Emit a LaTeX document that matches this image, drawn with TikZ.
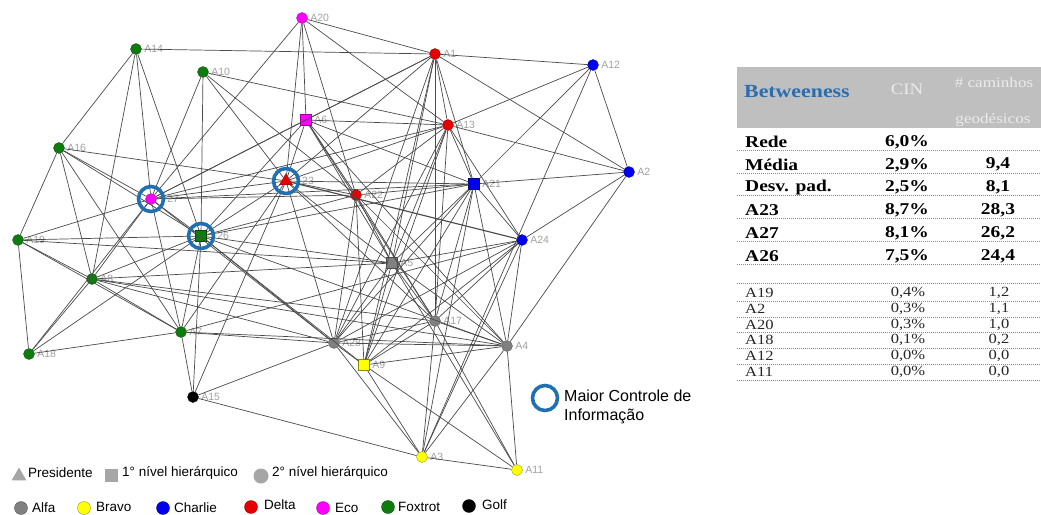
\documentclass[tikz,border=0pt]{standalone}
\usepackage{fontspec}
\setmainfont{Liberation Sans}
\newfontfamily\tabfont[FakeStretch=1.18]{Liberation Serif}
\usetikzlibrary{shapes.geometric}

\definecolor{alfa}{HTML}{808080}
\definecolor{bravo}{HTML}{FFFF00}
\definecolor{charlie}{HTML}{0000F0}
\definecolor{delta}{HTML}{E60000}
\definecolor{eco}{HTML}{FF00FF}
\definecolor{foxtrot}{HTML}{107C10}
\definecolor{golf}{HTML}{000000}
\definecolor{anelazul}{HTML}{1F70B0}
\definecolor{linha}{HTML}{4A4A4A}
\definecolor{rotulo}{HTML}{A0A0A0}
\definecolor{legcinza}{HTML}{A6A6A6}
\definecolor{cabec}{HTML}{BFBFBF}
\definecolor{betw}{HTML}{2A6DB0}

\begin{document}
\begin{tikzpicture}[x=1pt,y=-1pt,
  ator/.style={circle,inner sep=0pt,minimum size=11pt,line width=.3pt},
  chefe/.style={rectangle,inner sep=0pt,minimum size=11pt,line width=.3pt},
  pres/.style={regular polygon,regular polygon sides=3,inner sep=0pt,minimum size=15pt,line width=.3pt},
  al/.style={fill=alfa,draw=alfa!60!black},
  br/.style={fill=bravo,draw=bravo!55!black},
  ch/.style={fill=charlie,draw=charlie!55!black},
  de/.style={fill=delta,draw=delta!55!black},
  ec/.style={fill=eco,draw=eco!60!black},
  fo/.style={fill=foxtrot,draw=foxtrot!55!black},
  go/.style={fill=golf,draw=golf},
  rot/.style={text=rotulo,font=\fontsize{10.5}{10.5}\selectfont,inner sep=.5pt},
  anel/.style={circle,draw=anelazul,line width=3.6pt,minimum size=25pt,inner sep=0pt},
  ligacao/.style={draw=linha,line width=.7pt},
  leg/.style={font=\fontsize{13.5}{16}\selectfont,inner sep=0pt,anchor=west},
  tabb/.style={font=\tabfont\bfseries\fontsize{16.5}{18}\selectfont,inner sep=0pt},
  tabn/.style={font=\tabfont\fontsize{14}{15}\selectfont,text=black!85,inner sep=0pt},
  pont/.style={draw=black!45,line width=.6pt,dash pattern=on .7pt off 1.3pt},
  every label/.style={rot},label distance=2pt]
\useasboundingbox (0,0) rectangle (1041,514);

% atores da rede
\node[ator,ec,label=right:A20] (A20) at (302,18) {};
\node[ator,fo,label=right:A14] (A14) at (136,49) {};
\node[ator,fo,label=right:A10] (A10) at (203,72) {};
\node[ator,de,label=right:A1] (A1) at (435,54) {};
\node[ator,ch,label=right:A12] (A12) at (593,65) {};
\node[chefe,ec,label=right:A6] (A6) at (306,120) {};
\node[ator,de,label=right:A13] (A13) at (448,125) {};
\node[ator,fo,label=right:A16] (A16) at (59,148) {};
\node[ator,ch,label=right:A2] (A2) at (629,172) {};
\node[pres,de,label={[label distance=11pt]right:23}] (A23) at (286,181) {};
\node[ator,de,label=right:A22] (A22) at (356,195) {};
\node[chefe,ch,label=right:A21] (A21) at (474,184) {};
\node[ator,ec,label={[label distance=10pt]right:27}] (A27) at (151,199) {};
\node[chefe,fo,label={[label distance=10pt]right:26}] (A26) at (201,236) {};
\node[ator,fo,label=right:A19] (A19) at (18,240) {};
\node[ator,ch,label=right:A24] (A24) at (522,240) {};
\node[ator,fo,label=right:A8] (A8) at (92,279) {};
\node[chefe,al,label=right:A5] (A5) at (392,263) {};
\node[ator,al,label=right:A17] (A17) at (435,321) {};
\node[ator,fo,label=right:A7] (A7) at (181,332) {};
\node[ator,al,label=right:A28] (A28) at (334,343) {};
\node[ator,al,label=right:A4] (A4) at (507,346) {};
\node[ator,fo,label=right:A18] (A18) at (29,354) {};
\node[chefe,br,label=right:A9] (A9) at (364,365) {};
\node[ator,go,label=right:A15] (A15) at (193,397) {};
\node[ator,br,label=right:A3] (A3) at (422,457) {};
\node[ator,br,label=right:A11] (A11) at (517,470) {};

% ligacoes
\foreach \a/\b in {A20/A1,A20/A13,A20/A22,A20/A6,A20/A23,A20/A27,
  A14/A1,A14/A16,A14/A8,A14/A27,A14/A26,
  A10/A13,A10/A27,A10/A26,A10/A23,A10/A22,
  A16/A19,A16/A27,A16/A26,A16/A8,A16/A7,A16/A23,
  A1/A12,A1/A2,A1/A13,A1/A21,A1/A17,A1/A6,A1/A23,A1/A27,A1/A5,A1/A28,A1/A9,
  A12/A13,A12/A2,A12/A21,A12/A3,
  A6/A13,A6/A21,A6/A22,A6/A23,A6/A5,A6/A27,A6/A26,A6/A17,A6/A4,
  A13/A2,A13/A21,A13/A24,A13/A5,A13/A17,A13/A28,A13/A9,A13/A22,A13/A23,A13/A27,
  A2/A21,A2/A24,A2/A4,
  A23/A22,A23/A21,A23/A5,A23/A28,A23/A7,A23/A15,A23/A17,A23/A27,A23/A26,
  A22/A21,A22/A27,A22/A26,A22/A5,A22/A28,A22/A17,A22/A9,A22/A4,
  A21/A27,A21/A24,A21/A5,A21/A17,A21/A4,A21/A28,A21/A9,A21/A3,A21/A26,
  A27/A26,A27/A19,A27/A8,A27/A7,A27/A18,A27/A28,
  A26/A19,A26/A8,A26/A7,A26/A15,A26/A28,A26/A9,A26/A5,A26/A4,A26/A18,
  A24/A5,A24/A28,A24/A9,A24/A4,A24/A3,A24/A17,
  A5/A17,A5/A4,A5/A28,A5/A9,A5/A8,A5/A19,A5/A11,
  A17/A4,A17/A28,A17/A9,A17/A3,A17/A11,A17/A8,
  A28/A4,A28/A9,A28/A7,A28/A15,A28/A3,A28/A8,
  A4/A9,A4/A11,A4/A3,A4/A8,A4/A7,
  A9/A3,A9/A11,A3/A11,A3/A15,
  A7/A18,A7/A8,A7/A15,A7/A19,A7/A24,
  A8/A19,A8/A18,A19/A18}
  \draw[ligacao] (\a) -- (\b);
\draw[ligacao,line width=1.1pt] (A23) -- (A24);

% maior controle de informacao
\node[anel] (r23) at (A23) {};
\node[anel] (r27) at (A27) {};
\node[anel] (r26) at (A26) {};

% legendas
\node[anel] (lanel) at (545,398) {};
\node[font=\fontsize{16}{19}\selectfont,inner sep=0pt,anchor=west,align=left] (lanelt) at (564,407) {Maior Controle de\\Informação};

\node[pres,fill=legcinza,minimum size=17pt] (lpres) at (19,476) {};
\node[leg] (lprest) at (28,473) {Presidente};
\node[chefe,fill=legcinza,minimum size=13pt] (lchefe) at (111.5,475) {};
\node[leg] (lchefet) at (122,473) {1° nível hierárquico};
\node[ator,fill=legcinza,minimum size=15pt] (lsub) at (261,476) {};
\node[leg] (lsubt) at (272,473) {2° nível hierárquico};

\node[ator,al,minimum size=13pt] (lal) at (21,508) {};
\node[leg] at (32,508) {Alfa};
\node[ator,br,minimum size=13pt] (lbr) at (84,508) {};
\node[leg] at (96,507) {Bravo};
\node[ator,ch,minimum size=13pt] (lch) at (163,508) {};
\node[leg] at (174,508) {Charlie};
\node[ator,de,minimum size=13pt] (lde) at (251,507) {};
\node[leg] at (264,505) {Delta};
\node[ator,ec,minimum size=13pt] (lec) at (323,508) {};
\node[leg] at (335,508) {Eco};
\node[ator,fo,minimum size=13pt] (lfo) at (388,507) {};
\node[leg] at (398,507) {Foxtrot};
\node[ator,go,minimum size=13pt] (lgo) at (469,506) {};
\node[leg] at (482,505) {Golf};

% tabela
\fill[cabec] (737,67) rectangle (1041,128);
\node[font=\tabfont\bfseries\fontsize{18.5}{20}\selectfont,text=betw,inner sep=0pt,anchor=west] (tbet) at (744,92) {Betweeness};
\node[font=\tabfont\fontsize{16}{18}\selectfont,text=white!92!black,inner sep=0pt] (tcin) at (907,89) {CIN};
\node[font=\tabfont\fontsize{14.5}{16}\selectfont,text=white!92!black,inner sep=0pt] (tcam) at (994,83) {\# caminhos};
\node[font=\tabfont\fontsize{14.5}{16}\selectfont,text=white!92!black,inner sep=0pt] (tgeo) at (993,120) {geodésicos};

\foreach \nome/\cin/\cam [count=\i from 0] in {Rede/{6,0\%}/{},Média/{2,9\%}/{9,4},Desv. pad./{2,5\%}/{8,1},A23/{8,7\%}/{28,3},A27/{8,1\%}/{26,2},A26/{7,5\%}/{24,4}}{
  \node[tabb,anchor=west] at (745,142+22.8*\i) {\nome};
  \node[tabb] at (907,142+22.8*\i) {\cin};
  \node[tabb] at (998,142+22.8*\i) {\cam};
  \draw[pont] (737,150+22.8*\i) -- (1041,150+22.8*\i);
}
\draw[pont] (737,283) -- (1041,283);
\foreach \nome/\cin/\cam [count=\i from 0] in {A19/{0,4\%}/{1,2},A2/{0,3\%}/{1,1},A20/{0,3\%}/{1,0},A18/{0,1\%}/{0,2},A12/{0,0\%}/{0,0},A11/{0,0\%}/{0,0}}{
  \node[tabn,anchor=west] at (745,293+15.8*\i) {\nome};
  \node[tabn] at (908,293+15.8*\i) {\cin};
  \node[tabn] at (999,293+15.8*\i) {\cam};
  \draw[pont] (737,301+15.8*\i) -- (1041,301+15.8*\i);
}
\end{tikzpicture}
\end{document}
